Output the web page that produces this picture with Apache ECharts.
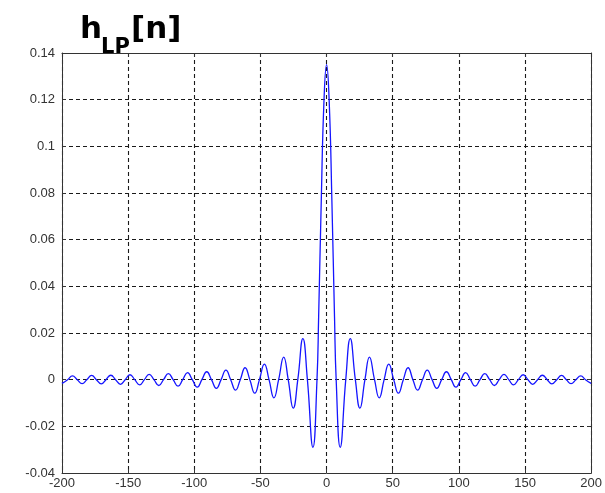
<!DOCTYPE html>
<html>
<head>
<meta charset="utf-8">
<script src="https://cdn.jsdelivr.net/npm/echarts@6/dist/echarts.min.js"></script>
<style>
  html, body { margin: 0; padding: 0; background: #fff; }
  #chart { width: 605px; height: 493px; }
</style>
</head>
<body>
<div id="chart"></div>
<script>
// Impulse response of the ideal low-pass filter h_LP[n]:
// main lobe samples, then each zero crossing followed by the ripple extremum after it.
const n = [
  -200, -195.75,
  -192.1, -188.5, -184.8, -181.25, -177.6, -174, -170.3, -166.75,
  -163.1, -159.5, -155.8, -152.25, -148.6, -145, -141.3, -137.75,
  -134.1, -130.5, -126.8, -123.25, -119.6, -116, -112.3, -108.75,
  -105.1, -101.5, -97.8, -94.25, -90.6, -87, -83.3, -79.75,
  -76.1, -72.5, -68.8, -65.25, -61.6, -58, -54.3, -50.75,
  -47.0, -43.5, -39.8, -36.25, -32.4, -29, -25.2, -21.75,
  -17.9, -14.5, -10.3, -7.25,
  -6, -4, -2, 0, 2, 4, 6,
  7.25, 10.3, 14.5, 17.9,
  21.75, 25.2, 29, 32.4, 36.25, 39.8, 43.5, 47.0,
  50.75, 54.3, 58, 61.6, 65.25, 68.8, 72.5, 76.1,
  79.75, 83.3, 87, 90.6, 94.25, 97.8, 101.5, 105.1,
  108.75, 112.3, 116, 119.6, 123.25, 126.8, 130.5, 134.1,
  137.75, 141.3, 145, 148.6, 152.25, 155.8, 159.5, 163.1,
  166.75, 170.3, 174, 177.6, 181.25, 184.8, 188.5, 192.1,
  195.75, 200
];
const h = [
  -0.0016, 0,
  0.0016, 0, -0.0017, 0, 0.0018, 0, -0.0018, 0,
  0.0019, 0, -0.0020, 0, 0.0021, 0, -0.0022, 0,
  0.0023, 0, -0.0025, 0, 0.0026, 0, -0.0028, 0,
  0.0030, 0, -0.0032, 0, 0.0034, 0, -0.0037, 0,
  0.0041, 0, -0.0045, 0, 0.0051, 0, -0.0058, 0,
  0.0067, 0, -0.0078, 0, 0.0097, 0, -0.0122, 0,
  0.0176, 0, -0.0290, 0,
  0.027, 0.077, 0.119, 0.135, 0.119, 0.077, 0.027,
  0, -0.0290, 0, 0.0176,
  0, -0.0122, 0, 0.0097, 0, -0.0078, 0, 0.0067,
  0, -0.0058, 0, 0.0051, 0, -0.0045, 0, 0.0041,
  0, -0.0037, 0, 0.0034, 0, -0.0032, 0, 0.0030,
  0, -0.0028, 0, 0.0026, 0, -0.0025, 0, 0.0023,
  0, -0.0022, 0, 0.0021, 0, -0.0020, 0, 0.0019,
  0, -0.0018, 0, 0.0018, 0, -0.0017, 0, 0.0016,
  0, -0.0016
];
const xTicks = { min: -200, max: 200, step: 50 };
const yTicks = { min: -0.04, max: 0.14, step: 0.02 };

const points = n.map((v, i) => [v, h[i]]);

const labelFont = { fontFamily: 'Liberation Sans, Arial, sans-serif', fontSize: 13, color: '#333' };
const dashed = { show: true, lineStyle: { color: '#1a1a1a', type: [4, 3], width: 1.1 } };
const frame = { show: true, onZero: false, lineStyle: { color: '#333', width: 1 } };
const tickIn = { show: true, inside: true, length: 4, lineStyle: { color: '#333' } };

const chart = echarts.init(document.getElementById('chart'), null, { renderer: 'canvas' });
chart.setOption({
  animation: false,
  backgroundColor: '#fff',
  grid: { left: 62, right: 10, top: 53, bottom: 20 },
  xAxis: [
    {
      type: 'value', min: xTicks.min, max: xTicks.max, interval: xTicks.step,
      axisLine: frame, axisTick: tickIn, splitLine: dashed,
      axisLabel: Object.assign({ margin: 4, showMaxLabel: true, showMinLabel: true }, labelFont)
    },
    {
      type: 'value', position: 'top', min: xTicks.min, max: xTicks.max, interval: xTicks.step,
      axisLine: frame, axisTick: tickIn, splitLine: { show: false }, axisLabel: { show: false }
    }
  ],
  yAxis: [
    {
      type: 'value', min: yTicks.min, max: yTicks.max, interval: yTicks.step,
      axisLine: frame, axisTick: tickIn, splitLine: dashed,
      axisLabel: Object.assign({ margin: 7, formatter: v => String(+v.toFixed(2)) }, labelFont)
    },
    {
      type: 'value', position: 'right', min: yTicks.min, max: yTicks.max, interval: yTicks.step,
      axisLine: frame, axisTick: tickIn, splitLine: { show: false }, axisLabel: { show: false }
    }
  ],
  series: [{
    type: 'line',
    data: points,
    smooth: 0.5,
    showSymbol: false,
    clip: true,
    lineStyle: { color: '#1515ff', width: 1.3 }
  }],
  graphic: [
    { type: 'text', left: 80, top: 14, style: { text: 'h', font: 'bold 31px "DejaVu Sans", sans-serif', fill: '#000' } },
    { type: 'text', left: 101, top: 37, style: { text: 'LP', font: 'bold 21px "DejaVu Sans", sans-serif', fill: '#000' } },
    { type: 'text', left: 131, top: 14, style: { text: '[n]', font: 'bold 31px "DejaVu Sans", sans-serif', fill: '#000' } }
  ]
});
</script>
</body>
</html>
